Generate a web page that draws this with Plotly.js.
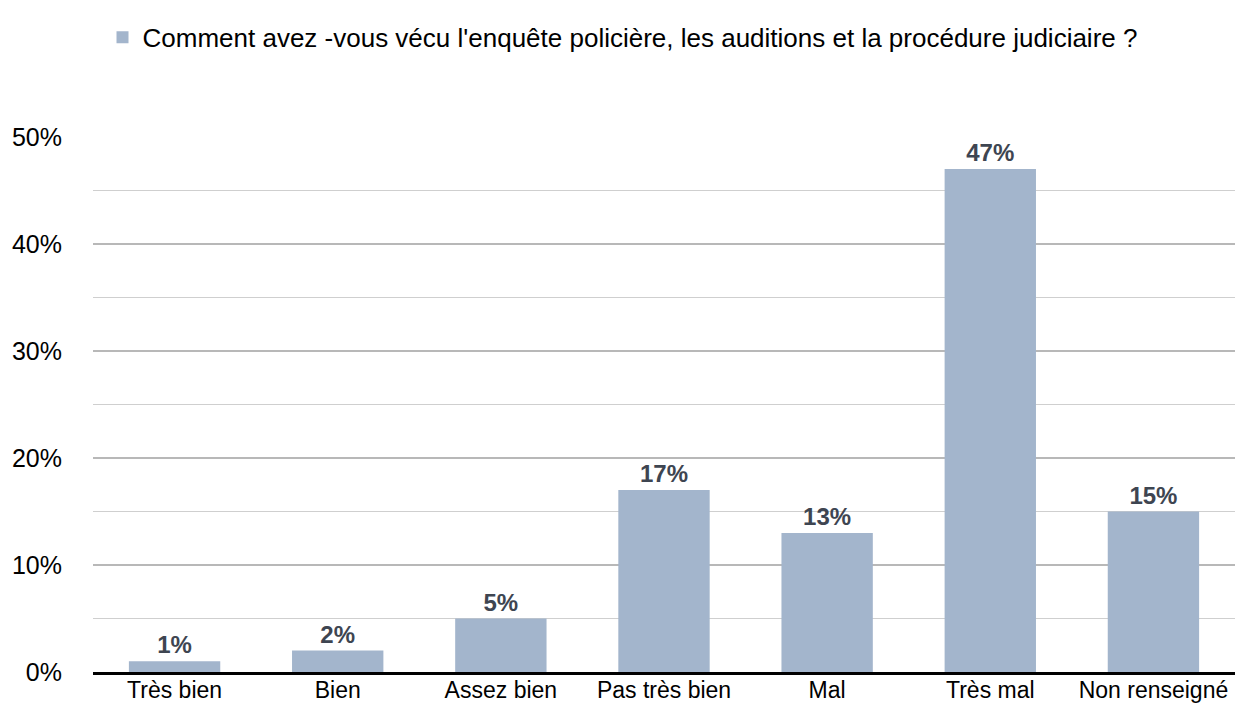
<!DOCTYPE html>
<html>
<head>
<meta charset="utf-8">
<script src="https://cdn.plot.ly/plotly-3.0.1.min.js"></script>
<style>
html,body{margin:0;padding:0;background:#fff;}
#chart{width:1235px;height:704px;}
</style>
</head>
<body>
<div id="chart"></div>
<script>
const categories = ["Très bien", "Bien", "Assez bien", "Pas très bien", "Mal", "Très mal", "Non renseigné"];
const values = [1, 2, 5, 17, 13, 47, 15];
const valueLabels = ["1%", "2%", "5%", "17%", "13%", "47%", "15%"];
const seriesName = "Comment avez -vous vécu l'enquête policière, les auditions et la procédure judiciaire ?";

const REG = "'Liberation Sans', Arial, Helvetica, sans-serif";

const trace = {
  type: "bar",
  x: categories,
  y: values,
  name: seriesName,
  text: valueLabels,
  textposition: "outside",
  cliponaxis: false,
  textfont: {family: REG, size: 24, color: "#3e4551", weight: "bold"},
  marker: {color: "#a3b5cc"},
  hoverinfo: "x+y",
  showlegend: true
};

const layout = {
  width: 1235,
  height: 704,
  margin: {l: 93, r: 0, t: 137, b: 32, autoexpand: false},
  paper_bgcolor: "#ffffff",
  plot_bgcolor: "#ffffff",
  bargap: 0.44,
  showlegend: true,
  legend: {
    orientation: "h",
    xref: "container", yref: "container",
    x: 0.083, xanchor: "left",
    y: 0.947, yanchor: "middle",
    font: {family: REG, size: 26, color: "#000000"},
    bgcolor: "rgba(0,0,0,0)"
  },
  xaxis: {
    type: "category",
    showgrid: false,
    showline: true,
    linecolor: "#000000",
    linewidth: 2.5,
    ticks: "",
    tickangle: 0,
    automargin: false,
    ticklabelstandoff: -4,
    tickfont: {family: REG, size: 23, color: "#000000"},
    fixedrange: true
  },
  yaxis: {
    range: [0, 50],
    dtick: 10,
    tick0: 0,
    ticksuffix: "%",
    showgrid: true,
    gridcolor: "#b8b8b8",
    gridwidth: 2,
    zeroline: false,
    showline: false,
    ticks: "",
    automargin: false,
    ticklabelstandoff: 30,
    tickfont: {family: REG, size: 25, color: "#000000"},
    minor: {dtick: 5, showgrid: true, gridcolor: "#cfcfcf", gridwidth: 1},
    fixedrange: true
  }
};

Plotly.newPlot("chart", [trace], layout, {displayModeBar: false, staticPlot: true});
</script>
</body>
</html>
